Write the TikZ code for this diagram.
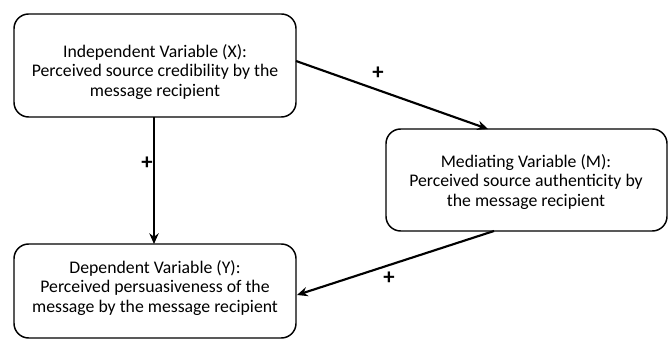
\documentclass[tikz,border=0pt]{standalone}
\usepackage{fontspec}
\setmainfont{Carlito}
\usetikzlibrary{arrows.meta}
\begin{document}
\begin{tikzpicture}[x=0.75pt,y=-0.75pt,
  varbox/.style={draw, line width=1.1pt, rounded corners=11pt},
  vartext/.style={align=center, font=\fontsize{13.3}{14.8}\selectfont},
  link/.style={line width=1.6pt, -{Stealth[length=8pt,width=7pt]}},
  plus/.style={font=\fontsize{17}{17}\selectfont\bfseries}]
\useasboundingbox (0,0) rectangle (670,341);
\draw[varbox] (14,14) rectangle (296,117);
\node[vartext] (xt) at (155,72) {Independent Variable (X):\\Perceived source credibility by the\\message recipient};
\draw[varbox] (386,129) rectangle (667,231);
\node[vartext] (mt) at (526,182) {Mediating Variable (M):\\Perceived source authenticity by\\the message recipient};
\draw[varbox] (14,244) rectangle (296,338);
\node[vartext] (yt) at (155,288) {Dependent Variable (Y):\\Perceived persuasiveness of the\\message by the message recipient};
\coordinate (x1) at (296,61);
\coordinate (m1) at (488,129);
\coordinate (x2) at (154,117);
\coordinate (y1) at (154,244);
\coordinate (m2) at (494,231);
\coordinate (y2) at (297,295);
\draw[link] (x1) -- (m1);
\draw[link] (x2) -- (y1);
\draw[link] (m2) -- (y2);
\node[plus] (p1) at (378,73) {+};
\node[plus] (p2) at (147,163) {+};
\node[plus] (p3) at (389,278) {+};
\end{tikzpicture}
\end{document}
